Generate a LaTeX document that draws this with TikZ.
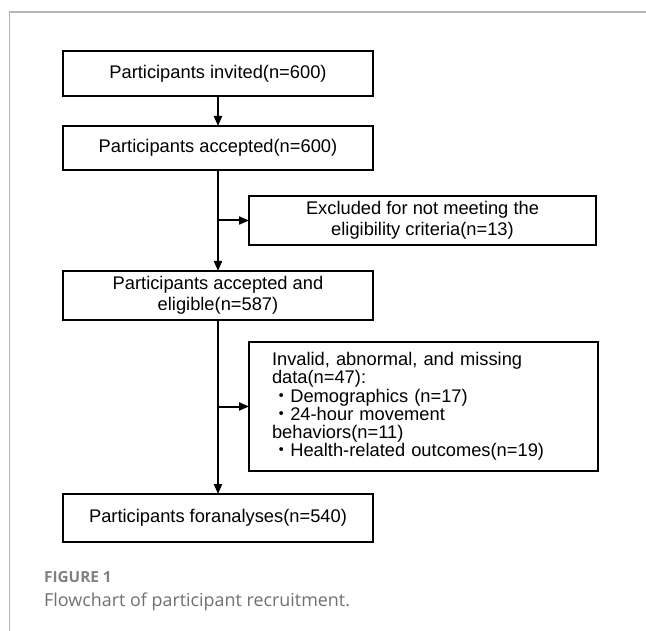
\documentclass[tikz,border=0pt]{standalone}
\usepackage{fontspec}
\setmainfont{Liberation Sans}
\newfontfamily\capfont{Open Sans}
\newfontfamily\cjk{Noto Sans CJK JP}
\usepackage{tikz}
\usetikzlibrary{%
	calc,%
	arrows.meta,%
	positioning,%
}
\definecolor{cframe}{RGB}{182, 182, 182}
\definecolor{ccaption}{RGB}{112, 112, 112}
\definecolor{clabel}{RGB}{128, 128, 128}
\tikzset{
	>={Triangle[length=10pt, width=8pt]},%
	stepbox/.style={%
			draw,%
			rectangle,%
			line width=2.2pt,%
			outer sep=0pt,%
			minimum width=310pt,%
			minimum height=45pt,%
			align=center,%
			font={\fontsize{18.3}{21}\selectfont}},%
	sidebox/.style={%
			stepbox,%
			minimum width=347pt,%
			minimum height=49pt},%
	flow/.style={%
			->,%
			line width=2pt},%
}
\newcommand{\itemdot}{{\cjk ・}}

\begin{document}
\begin{tikzpicture}[x=1pt, y=-1pt]%
	\useasboundingbox (0,0) rectangle (646,631);
	\draw[cframe, line width=1.5pt] (9.5,631) -- (9.5,12) -- (646,12);

	\node[stepbox] (invited) at (218,73.5) {Participants invited(n=600)};
	\node[stepbox, minimum height=44pt] (accepted) [below=30pt of invited] {Participants accepted(n=600)};
	\node[sidebox] (excl) [below right=26pt and 31pt of accepted.south] {Excluded for not meeting the\\eligibility criteria(n=13)};
	\node[stepbox, minimum height=49pt] (eligible) [below=101pt of accepted] {Participants accepted and\\eligible(n=587)};
	\node[sidebox, align=left, text width=303pt, inner xsep=23pt, minimum height=129pt,
		font={\fontsize{18.3}{18.3}\selectfont}] (invalid) [below right=22pt and 31pt of eligible.south] {Invalid, abnormal, and missing\\
		data(n=47):\\
		\itemdot Demographics (n=17)\\
		\itemdot 24-hour movement\\
		behaviors(n=11)\\
		\itemdot Health-related outcomes(n=19)};
	\node[stepbox, minimum height=48pt] (final) [below=174pt of eligible] {Participants foranalyses(n=540)};

	\node[anchor=base west, inner sep=0, text=clabel, font={\capfont\bfseries\fontsize{15.3}{17}\selectfont}] (fignum) at (44,582) {FIGURE 1};
	\node[anchor=base west, inner sep=0, text=ccaption, font={\capfont\fontsize{17.9}{21}\selectfont}] (figcap) at (44,606) {Flowchart of participant recruitment.};

	\draw[flow] (invited) -- (accepted);
	\draw[flow] (accepted) -- (eligible);
	\draw[flow] (excl.west -| accepted.south) -- (excl.west);
	\draw[flow] (eligible) -- (final);
	\draw[flow] (invalid.west -| eligible.south) -- (invalid.west);
\end{tikzpicture}
\end{document}
